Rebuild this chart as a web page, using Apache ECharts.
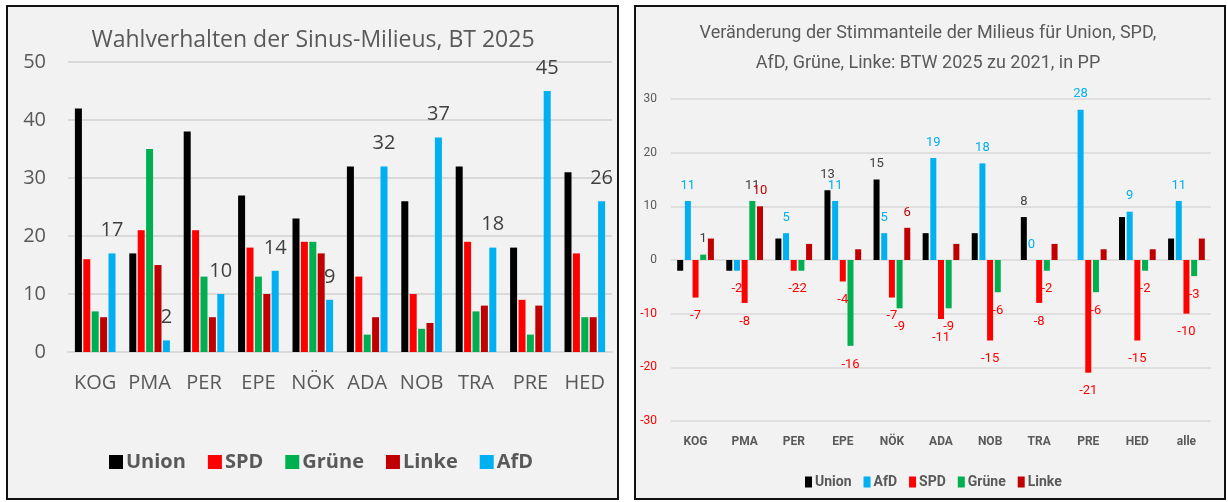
<!DOCTYPE html>
<html>
<head>
<meta charset="utf-8">
<script src="https://cdn.jsdelivr.net/npm/echarts@6/dist/echarts.min.js"></script>
<style>
html,body{margin:0;padding:0;background:#fff;}
#c{width:1228px;height:502px;}
</style>
</head>
<body>
<div id="c"></div>
<script>
// ---- Left chart data: Wahlverhalten der Sinus-Milieus, BT 2025 ----
const cats1 = ['KOG','PMA','PER','EPE','NÖK','ADA','NOB','TRA','PRE','HED'];
const union1 = [42,17,38,27,23,32,26,32,18,31];
const spd1 = [16,21,21,18,19,13,10,19,9,17];
const gruene1 = [7,35,13,13,19,3,4,7,3,6];
const linke1 = [6,15,6,10,17,6,5,8,8,6];
const afd1 = [17,2,10,14,9,32,37,18,45,26];
const yTicks1 = [0,10,20,30,40,50];

// ---- Right chart data: Veränderung BTW 2025 zu 2021, in PP ----
const cats2 = ['KOG','PMA','PER','EPE','NÖK','ADA','NOB','TRA','PRE','HED','alle'];
const union2 = [-2,-2,4,13,15,5,5,8,0,8,4];
const afd2 = [11,-2,5,11,5,19,18,0,28,9,11];
const spd2 = [-7,-8,-2,-4,-7,-11,-15,-8,-21,-15,-10];
const gruene2 = [1,11,-2,-16,-9,-9,-6,-2,-6,-2,-3];
const linke2 = [4,10,3,2,6,3,0,3,2,2,4];
// which values carry a data label (1 = labelled)
const unionLab2 = [0,0,0,1,1,0,0,1,0,0,0];
const afdLab2 = [1,1,1,1,1,1,1,1,1,1,1];
const spdLab2 = [1,1,1,1,1,1,1,1,1,1,1];
const grueneLab2 = [1,1,1,1,1,1,1,1,1,1,1];
const linkeLab2 = [0,1,0,0,1,0,0,0,0,0,0];
const yTicks2 = [-30,-20,-10,0,10,20,30];

const C = {union:'#000000', spd:'#ff0000', gruene:'#00b050', linke:'#c00000', afd:'#00b0f0'};
const F = '"Open Sans","Noto Sans",sans-serif';
const F2 = '"Roboto","Open Sans",sans-serif';

function leftSeries(name, data, color, labelled) {
  return {
    name, type:'bar', xAxisIndex:0, yAxisIndex:0, data,
    barWidth:7, barGap:'20%',
    itemStyle:{color},
    label: labelled ? {show:true, position:'top', distance:13, color:'#404040', fontSize:20, fontFamily:F} : {show:false}
  };
}

function rightSeries(name, values, labels, color, posLabelColor) {
  return {
    name, type:'bar', xAxisIndex:1, yAxisIndex:1,
    barWidth:6, barGap:'28%',
    itemStyle:{color},
    data: values.map((v, i) => ({
      value: v,
      label: labels[i] ? {
        show:true,
        position: v < 0 ? 'bottom' : 'top',
        distance: v < 0 ? 12 : 9,
        color: v < 0 ? '#ff0000' : posLabelColor,
        fontSize:13, fontFamily:F2
      } : {show:false}
    }))
  };
}

const chart = echarts.init(document.getElementById('c'), null, {renderer:'canvas'});
chart.setOption({
  backgroundColor:'#ffffff',
  animation:false,
  graphic:[
    {type:'rect', z:-10, shape:{x:7, y:6, width:611, height:493}, style:{fill:'#f2f2f2', stroke:'#111', lineWidth:2}},
    {type:'rect', z:-10, shape:{x:635, y:6, width:590, height:493}, style:{fill:'#f2f2f2', stroke:'#111', lineWidth:2}}
  ],
  title:[
    {text:'Wahlverhalten der Sinus-Milieus, BT 2025', left:313, top:29, textAlign:'center', padding:0,
     textStyle:{fontFamily:F, fontSize:23, fontWeight:'normal', color:'#595959'}},
    {text:'Veränderung der Stimmanteile der Milieus für Union, SPD,\nAfD, Grüne, Linke: BTW 2025 zu 2021, in PP', left:928, top:18, textAlign:'center', padding:0,
     textStyle:{fontFamily:F2, fontSize:18, fontWeight:'normal', color:'#595959', lineHeight:30}}
  ],
  legend:[
    {data:['Union','SPD','Grüne','Linke','AfD'], left:104, top:447, itemWidth:14, itemHeight:14, itemGap:22, icon:'rect',
     textStyle:{fontFamily:F, fontSize:20, fontWeight:'bold', color:'#595959', padding:[0,0,0,-2]}},
    {data:['Union','AfD','SPD','Grüne','Linke'], left:800, top:470, itemWidth:7, itemHeight:11, itemGap:12, icon:'rect',
     textStyle:{fontFamily:F2, fontSize:14, fontWeight:'bold', color:'#595959', padding:[0,0,0,-2]}}
  ],
  grid:[
    {left:68, top:62, width:544, height:290, containLabel:false},
    {left:671, top:99, width:540, height:322, containLabel:false}
  ],
  xAxis:[
    {type:'category', gridIndex:0, data:cats1,
     axisLine:{show:true, lineStyle:{color:'#d9d9d9', width:2}}, axisTick:{show:false},
     axisLabel:{color:'#595959', fontSize:20, fontFamily:F, margin:21, interval:0}},
    {type:'category', gridIndex:1, data:cats2, position:'bottom',
     axisLine:{show:false, onZero:false}, axisTick:{show:false},
     axisLabel:{color:'#595959', fontSize:12, fontWeight:'bold', fontFamily:F2, margin:15, interval:0}}
  ],
  yAxis:[
    {type:'value', gridIndex:0, min:yTicks1[0], max:yTicks1[yTicks1.length-1], interval:10,
     axisLine:{show:false}, axisTick:{show:false},
     splitLine:{lineStyle:{color:'#d9d9d9', width:2}},
     axisLabel:{color:'#595959', fontSize:20, fontFamily:F, margin:22}},
    {type:'value', gridIndex:1, min:yTicks2[0], max:yTicks2[yTicks2.length-1], interval:10,
     axisLine:{show:false}, axisTick:{show:false},
     splitLine:{lineStyle:{color:'#d9d9d9', width:1.5}},
     axisLabel:{fontSize:12, fontFamily:F2, margin:14, color:(v) => (Number(v) < 0 ? '#ff0000' : '#595959')}}
  ],
  series:[
    leftSeries('Union', union1, C.union, false),
    leftSeries('SPD', spd1, C.spd, false),
    leftSeries('Grüne', gruene1, C.gruene, false),
    leftSeries('Linke', linke1, C.linke, false),
    leftSeries('AfD', afd1, C.afd, true),
    rightSeries('Union', union2, unionLab2, C.union, '#404040'),
    rightSeries('AfD', afd2, afdLab2, C.afd, '#00b0f0'),
    rightSeries('SPD', spd2, spdLab2, C.spd, '#ff0000'),
    rightSeries('Grüne', gruene2, grueneLab2, C.gruene, '#404040'),
    rightSeries('Linke', linke2, linkeLab2, C.linke, '#c00000')
  ]
});
</script>
</body>
</html>
